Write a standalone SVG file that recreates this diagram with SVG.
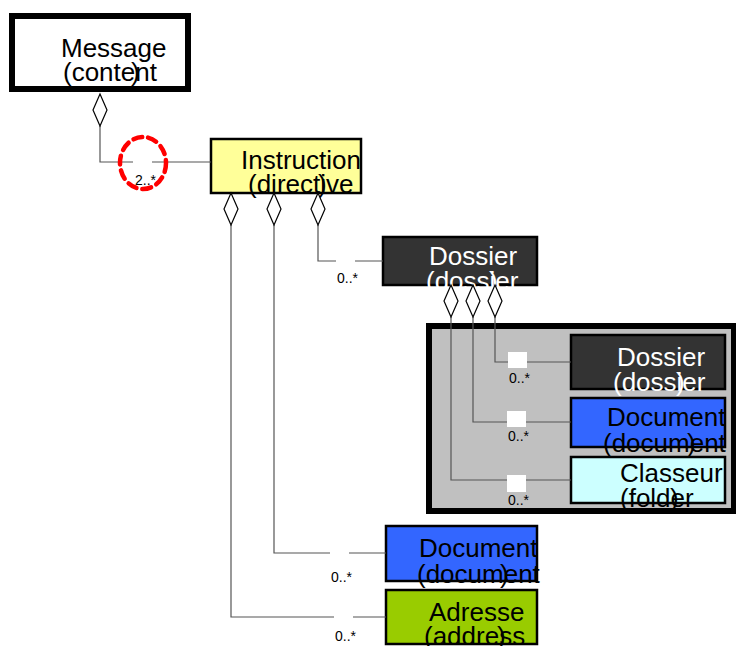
<svg xmlns="http://www.w3.org/2000/svg" width="736" height="646" viewBox="0 0 736 646">
<defs>
<style>
.t{font-family:"Liberation Sans",Arial,sans-serif;font-size:26px;fill:#000}
.w{fill:#fff}
.lbl{font-family:"Liberation Sans",Arial,sans-serif;font-size:14px;fill:#000}
.box{stroke:#000;stroke-width:2.5}
.ln{fill:none;stroke:#555;stroke-width:1.2}
.dia{fill:#fff;stroke:#000;stroke-width:1.2}
.gap{fill:#fff;stroke:none}
</style>
<path id="d" d="M0,0 L7,16 L0,32 L-7,16 Z"/>
</defs>
<rect width="736" height="646" fill="#fff"/>

<g id="frame">
<rect x="429" y="326" width="305" height="185" fill="#c0c0c0" stroke="#000" stroke-width="6"/>
</g>

<g id="message">
<rect x="12" y="16" width="176" height="73" fill="#fff" stroke="#000" stroke-width="6"/>
<text class="t" x="61" y="57">Message</text>
<text class="t" x="63" y="81">(content<tspan x="131">)</tspan></text>
</g>

<g id="instruction">
<rect class="box" x="211" y="139" width="150" height="54" fill="#ffff99" stroke-width="3"/>
<text class="t" x="241" y="169">Instruction</text>
<text class="t" x="248" y="193">(directive<tspan x="318">)</tspan></text>
</g>

<g id="dossier">
<rect class="box" x="383" y="237" width="154" height="48" fill="#333333"/>
<text class="t w" x="429" y="265">Dossier</text>
<text class="t w" x="426" y="290">(dossier<tspan x="489">)</tspan></text>
</g>

<g id="dossier-inner">
<rect class="box" x="571" y="335" width="154" height="54" fill="#333333"/>
<text class="t w" x="617" y="366">Dossier</text>
<text class="t w" x="613" y="391">(dossier<tspan x="676">)</tspan></text>
</g>

<g id="document-inner">
<rect class="box" x="571" y="398" width="154" height="49" fill="#3366ff"/>
<text class="t" x="607" y="426">Document</text>
<text class="t" x="603" y="452">(document<tspan x="687">)</tspan></text>
</g>

<g id="classeur">
<rect class="box" x="571" y="457" width="154" height="46" fill="#ccffff"/>
<text class="t" x="620" y="482">Classeur</text>
<text class="t" x="620" y="507">(folder<tspan x="670">)</tspan></text>
</g>

<g id="document">
<rect class="box" x="386" y="526" width="151" height="55" fill="#3366ff"/>
<text class="t" x="419" y="557">Document</text>
<text class="t" x="417" y="583">(document<tspan x="500">)</tspan></text>
</g>

<g id="adresse">
<rect class="box" x="386" y="590" width="151" height="54" fill="#99cc00"/>
<text class="t" x="429" y="621">Adresse</text>
<text class="t" x="424" y="645">(address<tspan x="497">)</tspan></text>
</g>

<g id="connectors">
<path class="ln" d="M100,126 V162 H211"/>
<rect class="gap" x="133" y="154" width="19" height="16"/>
<use href="#d" class="dia" x="100" y="94"/>
<text class="lbl" x="135" y="185">2..*</text>

<path class="ln" d="M318,225 V261 H383"/>
<rect class="gap" x="336" y="253" width="19" height="16"/>
<use href="#d" class="dia" x="318" y="193"/>
<text class="lbl" x="337" y="283">0..*</text>

<path class="ln" d="M274,225 V553 H386"/>
<rect class="gap" x="330" y="545" width="19" height="16"/>
<use href="#d" class="dia" x="274" y="193"/>
<text class="lbl" x="331" y="582">0..*</text>

<path class="ln" d="M231,225 V617 H386"/>
<rect class="gap" x="334" y="609" width="19" height="16"/>
<use href="#d" class="dia" x="231" y="193"/>
<text class="lbl" x="335" y="641">0..*</text>

<path class="ln" d="M495,317 V362 H571"/>
<rect class="gap" x="508" y="352" width="19" height="16"/>
<use href="#d" class="dia" x="495" y="285"/>
<text class="lbl" x="509" y="383">0..*</text>

<path class="ln" d="M473,317 V422 H571"/>
<rect class="gap" x="507" y="411" width="19" height="16"/>
<use href="#d" class="dia" x="473" y="285"/>
<text class="lbl" x="508" y="441">0..*</text>

<path class="ln" d="M451,317 V480 H571"/>
<rect class="gap" x="507" y="475" width="19" height="17"/>
<use href="#d" class="dia" x="451" y="285"/>
<text class="lbl" x="508" y="505">0..*</text>

<ellipse cx="143" cy="163" rx="23" ry="26" fill="none" stroke="#ff0000" stroke-width="4.5" stroke-dasharray="9,6" stroke-linecap="round"/>
</g>
</svg>
